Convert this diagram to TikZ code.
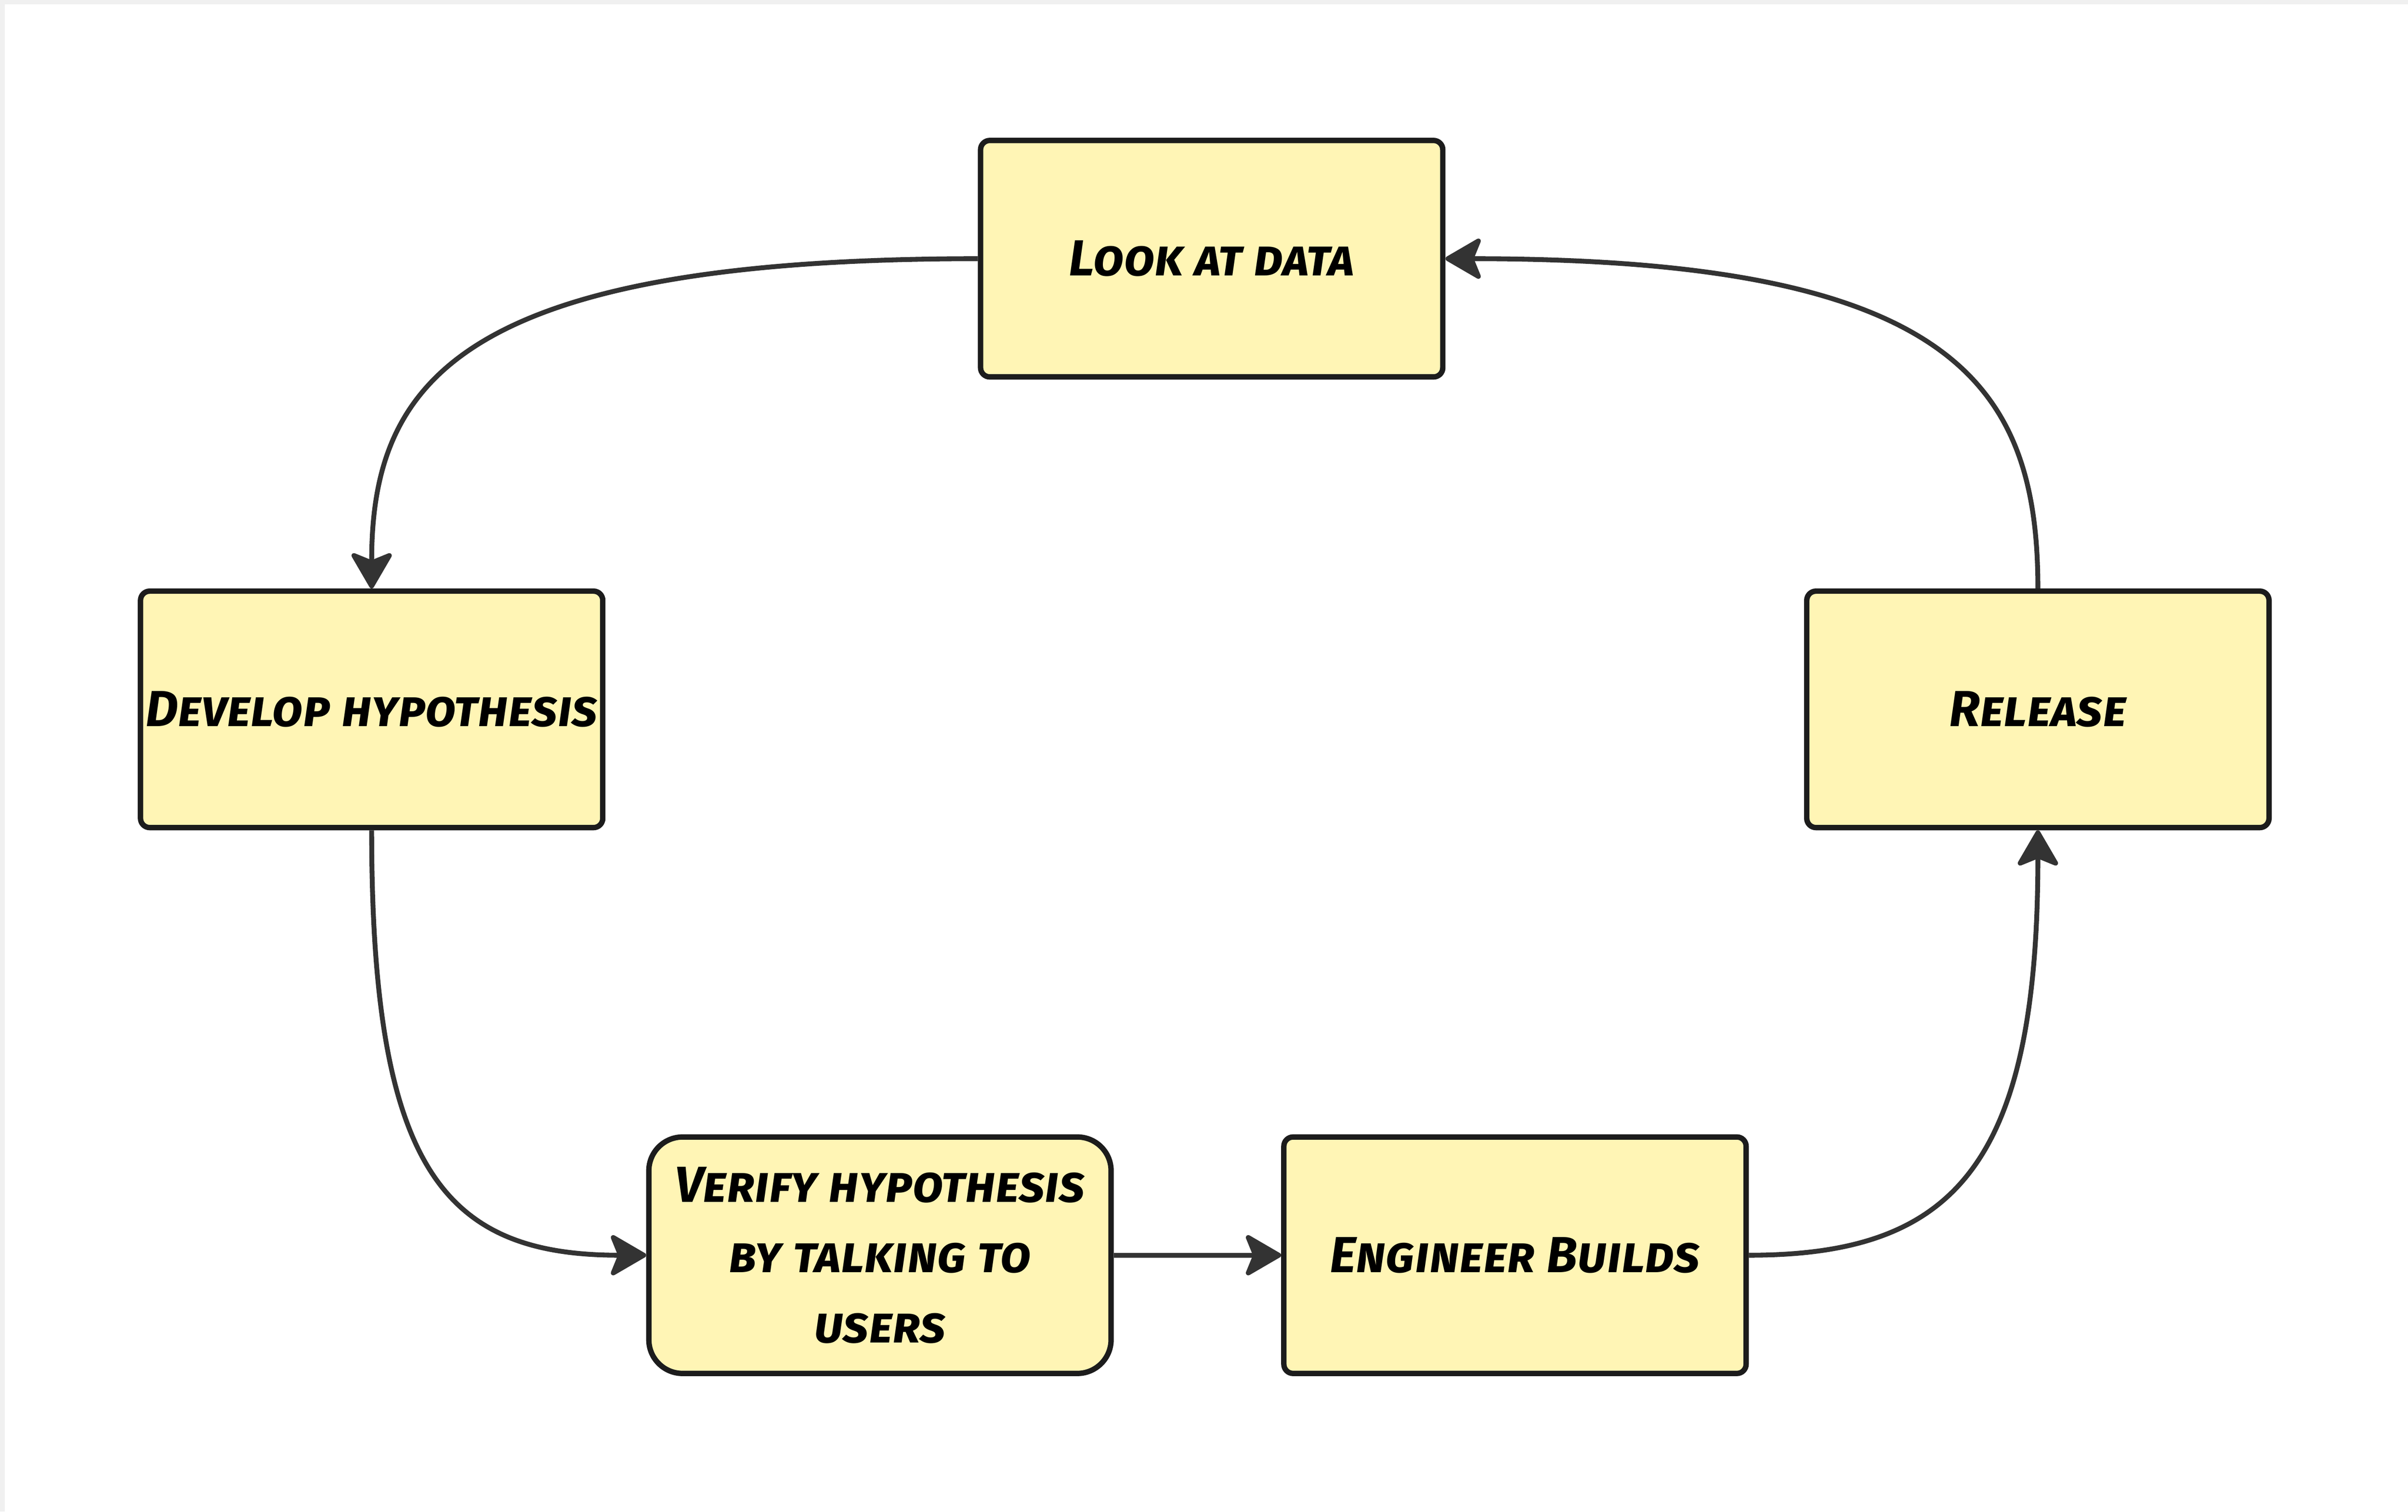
\documentclass[tikz,border=0pt]{standalone}
\usepackage{fontspec}
\newfontfamily\handfont{Fira Sans}[Letters=SmallCaps]
\usetikzlibrary{arrows.meta}
\definecolor{notefill}{HTML}{FFF5B5}
\definecolor{noteline}{HTML}{1C1C1C}
\definecolor{flowline}{HTML}{333333}
\tikzset{
  stepbox/.style={draw=noteline, fill=notefill, line width=1pt,
    rounded corners=0.6mm, minimum width=30.1mm, minimum height=15.4mm,
    inner sep=0pt, align=center,
    font=\handfont\bfseries\itshape\fontsize{9.4}{13}\selectfont},
  roundbox/.style={stepbox, rounded corners=2.2mm},
  flow/.style={draw=flowline, line width=0.9pt,
    -{Stealth[length=2.6mm, width=3mm, inset=0.6mm, round]}},
}
\begin{document}
\begin{tikzpicture}[x=0.1mm, y=0.1mm]
  \useasboundingbox (0,0) rectangle (1568,984.5);

  % FRAME
  \draw[black!6, line width=0.6mm] (0,0) -- (0,984.5) -- (1568,984.5);

  % STEPS
  \node[stepbox] (look) at (789,816) {Look at data};
  \node[stepbox] (dev) at (242,522.5) {Develop hypothesis};
  \node[stepbox] (rel) at (1327,522.5) {Release};
  \node[roundbox] (ver) at (573,167) {Verify hypothesis\\by talking to\\users};
  \node[stepbox] (eng) at (986.5,167) {Engineer Builds};

  % FLOWS
  \draw[flow] (look.west) .. controls +(-338,0) and +(0,134) .. (dev.north);
  \draw[flow] (dev.south) .. controls +(0,-220) and +(-132,0) .. (ver.west);
  \draw[flow] (ver) -- (eng);
  \draw[flow] (eng.east) .. controls +(132,0) and +(0,-220) .. (rel.south);
  \draw[flow] (rel.north) .. controls +(0,134) and +(329,0) .. (look.east);
\end{tikzpicture}
\end{document}
